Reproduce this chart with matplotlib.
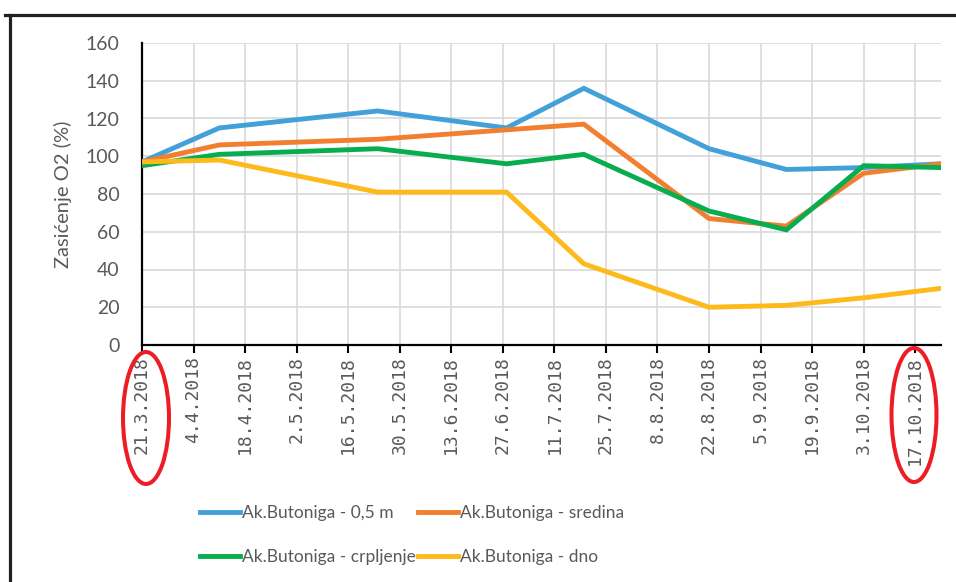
import datetime
import matplotlib
matplotlib.use('Agg')
import matplotlib.pyplot as plt
from matplotlib.patches import Ellipse
from matplotlib.lines import Line2D

# ---------------------------- podaci ----------------------------
datumi = ['21.3.2018', '11.4.2018', '24.5.2018', '28.6.2018', '19.7.2018',
          '22.8.2018', '12.9.2018', '3.10.2018', '24.10.2018']

povrsina = [97, 115, 124, 115, 136, 104, 93, 94, 96]      # 0,5 m
sredina = [97, 106, 109, 114, 117, 67, 63, 91, 96]
crpljenje = [95, 101, 104, 96, 101, 71, 61, 95, 94]
dno = [97, 98, 81, 81, 43, 20, 21, 25, 30]

nazivi = ['Ak.Butoniga - 0,5 m', 'Ak.Butoniga - sredina',
          'Ak.Butoniga - crpljenje', 'Ak.Butoniga - dno']
boje = ['#43A0D9', '#F27E30', '#07AD4E', '#FDBA1A']

x_oznake = ['21.3.2018', '4.4.2018', '18.4.2018', '2.5.2018', '16.5.2018',
            '30.5.2018', '13.6.2018', '27.6.2018', '11.7.2018', '25.7.2018',
            '8.8.2018', '22.8.2018', '5.9.2018', '19.9.2018', '3.10.2018',
            '17.10.2018']
y_oznake = [0, 20, 40, 60, 80, 100, 120, 140, 160]


def u_datum(s):
    return datetime.datetime.strptime(s, '%d.%m.%Y')


x = [u_datum(d) for d in datumi]
x_tick = [u_datum(d) for d in x_oznake]

W, H = 956, 582
siva = '#595959'

fig = plt.figure(figsize=(W / 100, H / 100), dpi=100)
ax = fig.add_axes([142 / W, 1 - 345 / H, (941 - 142) / W, (345 - 43) / H])

serije = [povrsina, sredina, crpljenje, dno]
linije = []
for vrijednosti, boja, naziv in zip(serije, boje, nazivi):
    l, = ax.plot(x, vrijednosti, color=boja, lw=3.5, label=naziv,
                 solid_joinstyle='miter', zorder=3)
    linije.append(l)

ax.set_xlim(x[0], x[-1])
ax.set_ylim(0, 160)
ax.set_xticks(x_tick)
ax.set_xticklabels(x_oznake, rotation=90, family='DejaVu Sans Mono',
                   fontsize=13, color=siva, va='top')
ax.set_yticks(y_oznake)
ax.set_yticklabels([str(v) for v in y_oznake], family='Lato', fontsize=14,
                   color=siva)

ax.tick_params(axis='x', direction='out', length=6, width=1.5, color='black',
               pad=2)
ax.tick_params(axis='y', length=0, pad=16)

ax.grid(True, color='#d9d9d9', lw=1.2, zorder=0)
ax.set_axisbelow(True)
for s in ['top', 'right']:
    ax.spines[s].set_visible(False)
for s in ['left', 'bottom']:
    ax.spines[s].set_color('black')
    ax.spines[s].set_linewidth(1.6)

ax.set_ylabel('Zasićenje O2 (%)', family='Lato', fontsize=14.5, color=siva)
ax.yaxis.set_label_coords(-0.088, 0.5)

# legenda : 2 reda, 2 stupca
poredak = [linije[0], linije[2], linije[1], linije[3]]
fig.legend(poredak, [l.get_label() for l in poredak], ncol=2,
           loc='upper left', bbox_to_anchor=(191 / W, 1 - 496 / H),
           frameon=False, borderpad=0, handlelength=2.3, handletextpad=0.15,
           columnspacing=0.1, labelspacing=1.65,
           prop={'family': 'Lato', 'size': 12.5},
           labelcolor=siva)

# crveni oblici oko prvog i zadnjeg datuma
for cx, cy, w, h in [(146, 418, 46, 132), (914, 415, 45, 134)]:
    fig.add_artist(Ellipse((cx / W, 1 - cy / H), w / W, h / H,
                           transform=fig.transFigure, fill=False,
                           edgecolor='#EE1C25', lw=2.9))

# okvir slike
fig.add_artist(Line2D([5 / W, 1], [1 - 14.5 / H, 1 - 14.5 / H],
                      transform=fig.transFigure, color='#231f20', lw=2.3))
fig.add_artist(Line2D([9.5 / W, 9.5 / W], [0, 1 - 14.5 / H],
                      transform=fig.transFigure, color='#231f20', lw=2.3))

fig.savefig('out.png', dpi=100)
